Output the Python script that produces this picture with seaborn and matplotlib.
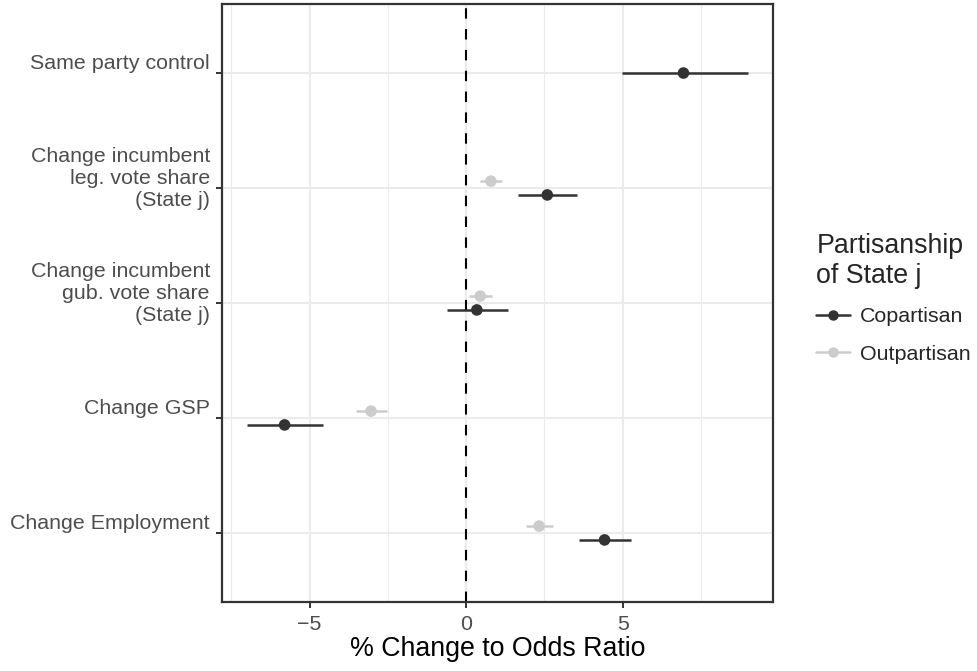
import numpy as np
import pandas as pd
import matplotlib
matplotlib.use('Agg')
import matplotlib.pyplot as plt
import matplotlib.transforms as mtransforms
from matplotlib.lines import Line2D
import seaborn as sns

# --- datos ---
variables = ['Same party control',
             'Change incumbent\nleg. vote share\n(State j)',
             'Change incumbent\ngub. vote share\n(State j)',
             'Change GSP',
             'Change Employment']
groups = ['Copartisan', 'Outpartisan']

copartisan_est = [6.94, 2.59, 0.34, -5.80, 4.42]
copartisan_lo = [4.98, 1.67, -0.60, -7.00, 3.61]
copartisan_hi = [9.00, 3.54, 1.33, -4.56, 5.26]

outpartisan_est = [None, 0.79, 0.45, -3.04, 2.33]
outpartisan_lo = [None, 0.44, 0.08, -3.51, 1.92]
outpartisan_hi = [None, 1.15, 0.82, -2.52, 2.78]

palette = {'Copartisan': '#333333', 'Outpartisan': '#CCCCCC'}

# --- tabla larga ---
rows = []
for i, v in enumerate(variables):
    for g, est, lo, hi in [('Copartisan', copartisan_est, copartisan_lo, copartisan_hi),
                           ('Outpartisan', outpartisan_est, outpartisan_lo, outpartisan_hi)]:
        if est[i] is not None:
            rows.append({'variable': v, 'idx': i, 'group': g,
                         'est': est[i], 'lo': lo[i], 'hi': hi[i]})
df = pd.DataFrame(rows)

# esquivar (dodge) verticalmente cuando hay dos grupos
n_per_var = df.groupby('idx')['group'].transform('count')
offset = np.where(df['group'] == 'Outpartisan', -0.06, 0.06)
df['ypos'] = df['idx'] + np.where(n_per_var > 1, offset, 0.0)

# --- estilo ---
sns.set_style('white')
plt.rcParams['font.family'] = ['Liberation Sans', 'DejaVu Sans']

fig = plt.figure(figsize=(9.77, 6.71), dpi=100)
ax = fig.add_axes([0.2272, 0.1028, 0.7912 - 0.2272, 0.994 - 0.1028])

ax.axvline(0, color='black', lw=1.5, linestyle=(0, (5, 5)), zorder=2)
ax.hlines(df['ypos'], df['lo'], df['hi'],
          colors=df['group'].map(palette), lw=1.8, zorder=3)
sns.scatterplot(data=df, x='est', y='ypos', hue='group', palette=palette,
                s=70, linewidth=0, legend=False, ax=ax, zorder=4)

# limites (expansion tipo ggplot)
xmin, xmax = df['lo'].min(), df['hi'].max()
pad = 0.05 * (xmax - xmin)
ax.set_xlim(xmin - pad, xmax + pad)
ax.set_ylim(len(variables) - 1 + 0.6, -0.6)

ax.set_xticks([-5, 0, 5])
ax.set_xticklabels(['\u22125', '0', '5'])
ax.set_xticks([-7.5, -2.5, 2.5, 7.5], minor=True)
ax.set_yticks(range(len(variables)))
ax.set_yticklabels([])

# etiquetas del eje y, algo desplazadas hacia arriba como en el original
lab_trans = mtransforms.blended_transform_factory(ax.transAxes, ax.transData) + \
    mtransforms.ScaledTranslation(-0.12, 0.10, fig.dpi_scale_trans)
for i, v in enumerate(variables):
    ax.text(0, i, v, transform=lab_trans, ha='right', va='center',
            fontsize=15.4, color='#4D4D4D')

ax.grid(which='major', color='#EBEBEB', lw=1.5)
ax.grid(which='minor', axis='x', color='#EBEBEB', lw=0.8)
ax.set_axisbelow(True)

for sp in ax.spines.values():
    sp.set_color('#333333')
    sp.set_linewidth(1.6)

ax.tick_params(which='major', direction='out', length=4, width=1.4, color='#333333',
               labelsize=15.4, labelcolor='#4D4D4D', pad=5.5,
               bottom=True, left=True)
ax.tick_params(which='minor', length=0)

ax.set_xlabel('% Change to Odds Ratio', fontsize=19.3, color='black', labelpad=1.5)
ax.set_ylabel('')

# leyenda
handles = [Line2D([0], [0], color=palette[g], lw=1.8, marker='o', markersize=6.5)
           for g in groups]
leg = fig.legend(handles, groups, title='Partisanship\nof State j',
                 loc='upper left', bbox_to_anchor=(0.816, 0.681),
                 frameon=False, fontsize=15.4, title_fontsize=19.3,
                 handlelength=1.55, handletextpad=0.5, labelspacing=0.85,
                 alignment='left')

plt.savefig('out.png', dpi=100)
print("Grafico guardado en out.png")
